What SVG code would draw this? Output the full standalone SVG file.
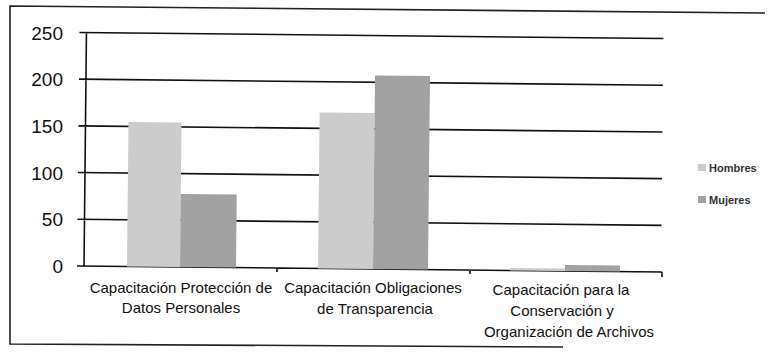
<svg xmlns="http://www.w3.org/2000/svg" width="769" height="353" viewBox="0 0 769 353">
<style>
.grid{stroke:#111;stroke-width:1.6;fill:none}
.frame{stroke:#222;stroke-width:1.6;fill:none}
.ylab{font-family:"Liberation Sans",Arial,sans-serif;font-size:19px;fill:#111;text-anchor:end}
.clab{font-family:"Liberation Sans",Arial,sans-serif;font-size:15px;fill:#111;text-anchor:middle}
.leg{font-family:"Liberation Sans",Arial,sans-serif;font-size:11px;font-weight:bold;fill:#333}
.h{fill:#cccccc}
.m{fill:#a2a2a2}
</style>
<rect width="769" height="353" fill="#ffffff"/>
<g id="frame">
<path class="frame" d="M765,13 L10,6 L10,344 L563,347"/>
</g>
<g id="plot" transform="rotate(0.6 84 266)">
<g id="gridlines">
<path class="grid" d="M77,32.5H661 M77,79.2H661 M77,125.9H661 M77,172.6H661 M77,219.3H661 M77,266H662 M84,32.5V266 M277,266V270 M470,266V270 M662,266V271"/>
</g>
<g id="bars">
<g id="g1-hombres"><rect class="h" x="127" y="121.5" width="53" height="144.5"/></g>
<g id="g1-mujeres"><rect class="m" x="180" y="193" width="56" height="73"/></g>
<g id="g2-hombres"><rect class="h" x="318" y="110" width="55" height="156"/></g>
<g id="g2-mujeres"><rect class="m" x="373" y="72.5" width="55" height="193.5"/></g>
<g id="g3-hombres"><rect class="h" x="510" y="263.5" width="55" height="2.5"/></g>
<g id="g3-mujeres"><rect class="m" x="565" y="260" width="55" height="6"/></g>
</g>
</g>
<g id="yaxis-labels">
<text class="ylab" x="63" y="39.5">250</text>
<text class="ylab" x="63" y="86">200</text>
<text class="ylab" x="63" y="133">150</text>
<text class="ylab" x="63" y="179.5">100</text>
<text class="ylab" x="63" y="226">50</text>
<text class="ylab" x="63" y="273">0</text>
</g>
<g id="cat1">
<text class="clab" x="181" y="293">Capacitación Protección de</text>
<text class="clab" x="181" y="313">Datos Personales</text>
</g>
<g id="cat2">
<text class="clab" x="373" y="293">Capacitación Obligaciones</text>
<text class="clab" x="375" y="314">de Transparencia</text>
</g>
<g id="cat3">
<text class="clab" x="561" y="295">Capacitación para la</text>
<text class="clab" x="562" y="316">Conservación y</text>
<text class="clab" x="569" y="337">Organización de Archivos</text>
</g>
<g id="legend">
<g id="leg-hombres"><rect class="h" x="698" y="164" width="8" height="7"/><text class="leg" x="709" y="172">Hombres</text></g>
<g id="leg-mujeres"><rect class="m" x="698" y="196" width="8" height="7"/><text class="leg" x="709" y="204">Mujeres</text></g>
</g>
</svg>
